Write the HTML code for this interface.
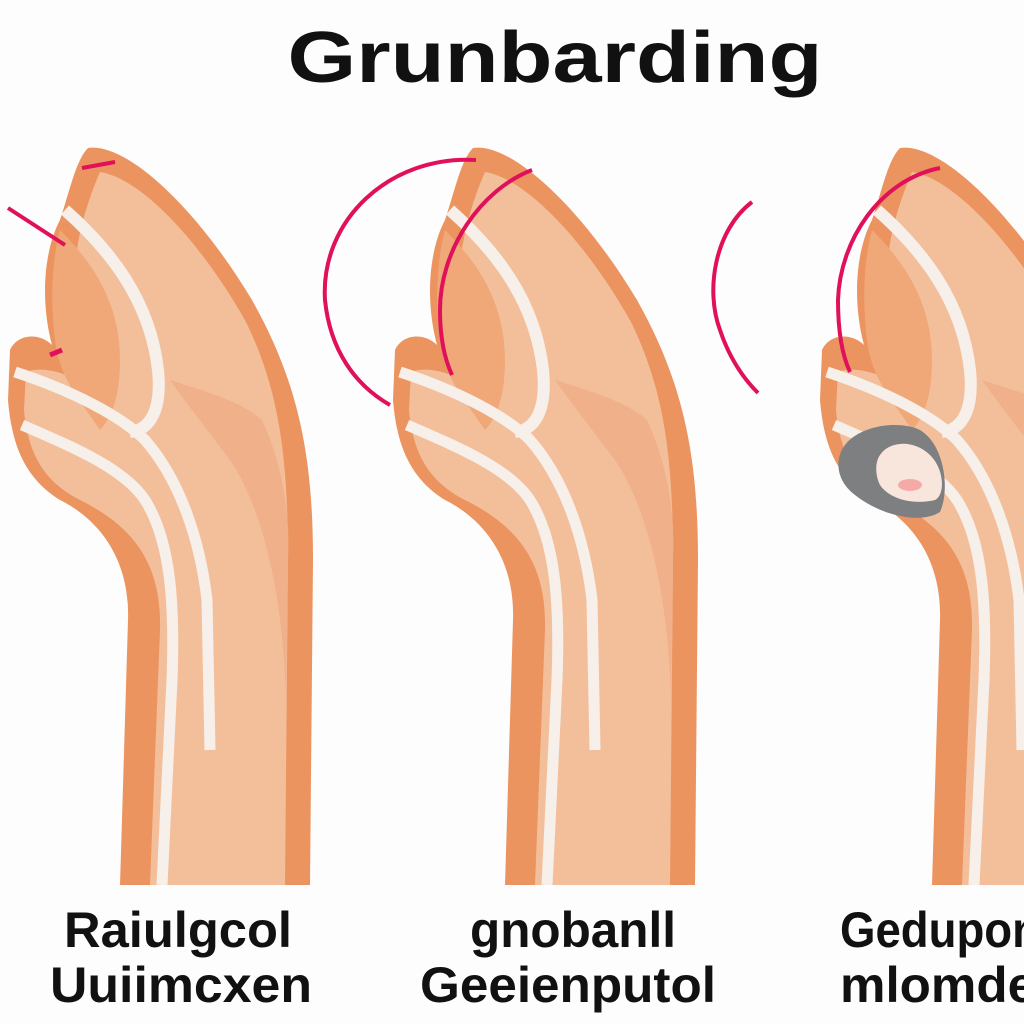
<!DOCTYPE html>
<html><head><style>
html,body{margin:0;padding:0;background:#fff;}
svg{display:block;}
</style></head><body>
<svg width="1024" height="1024" viewBox="0 0 1024 1024" xmlns="http://www.w3.org/2000/svg">
<rect width="1024" height="1024" fill="#fdfdfd"/>
<defs>
<g id="hand">
<path d="M88,148 C125,142 195,205 252,300 C300,385 313,460 313,560 L310,885 L120,885 L128,620 C130,560 100,520 60,500 C28,480 12,450 8,400 L10,350 C18,333 40,333 52,345 C40,300 44,250 60,220 C70,190 76,160 88,148 Z" fill="#ec9460"/>
<path d="M100,172 C140,178 200,240 246,322 C280,392 288,460 288,560 L285,885 L150,885 L160,630 C162,560 130,525 80,500 C45,482 28,455 24,410 L26,372 C42,366 65,372 85,385 L75,330 C70,280 75,230 100,172 Z" fill="#f3bf9b"/>
<path d="M262,420 C285,470 290,520 288,560 L286,700 C284,620 270,520 230,460 C215,440 180,395 170,380 C200,390 240,400 262,420 Z" fill="#f0b08a"/>
<path d="M60,230 C90,260 120,300 120,360 C120,400 110,420 100,430 C80,400 60,380 55,340 C50,300 52,260 60,230 Z" fill="#f0a878"/>
<path d="M65,210 C110,250 150,300 158,370 C162,410 150,430 130,432" fill="none" stroke="#f7efea" stroke-width="12"/>
<path d="M15,372 C70,390 120,415 145,440 C180,480 200,540 207,600 L210,750" fill="none" stroke="#f7efea" stroke-width="11"/>
<path d="M22,425 C80,450 125,470 145,500 C170,540 175,600 172,680 L162,885" fill="none" stroke="#f7efea" stroke-width="11"/>
</g>
</defs>
<use href="#hand"/>
<use href="#hand" transform="translate(385,0)"/>
<use href="#hand" transform="translate(812,0)"/>
<path d="M8,208 L65,245" stroke="#e0105a" stroke-width="4"/>
<path d="M82,168 L115,162" stroke="#e0105a" stroke-width="4"/>
<path d="M50,355 L62,350" stroke="#e0105a" stroke-width="5"/>
<path d="M476,160 C390,155 320,220 325,300 C330,350 355,385 390,405" fill="none" stroke="#e0105a" stroke-width="4"/>
<path d="M532,170 C480,190 440,250 440,310 C440,340 445,360 452,375" fill="none" stroke="#e0105a" stroke-width="4"/>
<path d="M752,202 C715,230 705,290 720,330 C730,360 745,380 758,393" fill="none" stroke="#e0105a" stroke-width="4"/>
<path d="M940,168 C880,180 840,240 838,300 C838,330 842,355 850,372" fill="none" stroke="#e0105a" stroke-width="4"/>
<path d="M845,445 C860,425 900,420 920,430 C945,445 950,490 940,512 C920,525 880,515 855,495 C835,480 835,458 845,445 Z" fill="#7d7f81"/>
<path d="M880,455 C890,440 915,440 930,455 C945,470 945,495 935,500 C915,505 890,500 880,485 C875,475 875,462 880,455 Z" fill="#f8e6dc"/>
<ellipse cx="910" cy="485" rx="12" ry="6" fill="#f5aaa8"/>
<g font-family="'Liberation Sans', 'DejaVu Sans', sans-serif" fill="#111">
<text x="555" y="82" font-size="72" font-weight="bold" text-anchor="middle" textLength="535" lengthAdjust="spacingAndGlyphs">Grunbarding</text>
<text x="64" y="947" font-size="50" font-weight="bold" textLength="228" lengthAdjust="spacingAndGlyphs">Raiulgcol</text>
<text x="50" y="1002" font-size="50" font-weight="bold" textLength="262" lengthAdjust="spacingAndGlyphs">Uuiimcxen</text>
<text x="470" y="947" font-size="50" font-weight="bold" textLength="206" lengthAdjust="spacingAndGlyphs">gnobanll</text>
<text x="420" y="1002" font-size="50" font-weight="bold" textLength="296" lengthAdjust="spacingAndGlyphs">Geeienputol</text>
<text x="840" y="947" font-size="50" font-weight="bold" textLength="200" lengthAdjust="spacingAndGlyphs">Gedupon</text>
<text x="840" y="1002" font-size="50" font-weight="bold" textLength="196" lengthAdjust="spacingAndGlyphs">mlomde</text>
</g>
</svg>
</body></html>
